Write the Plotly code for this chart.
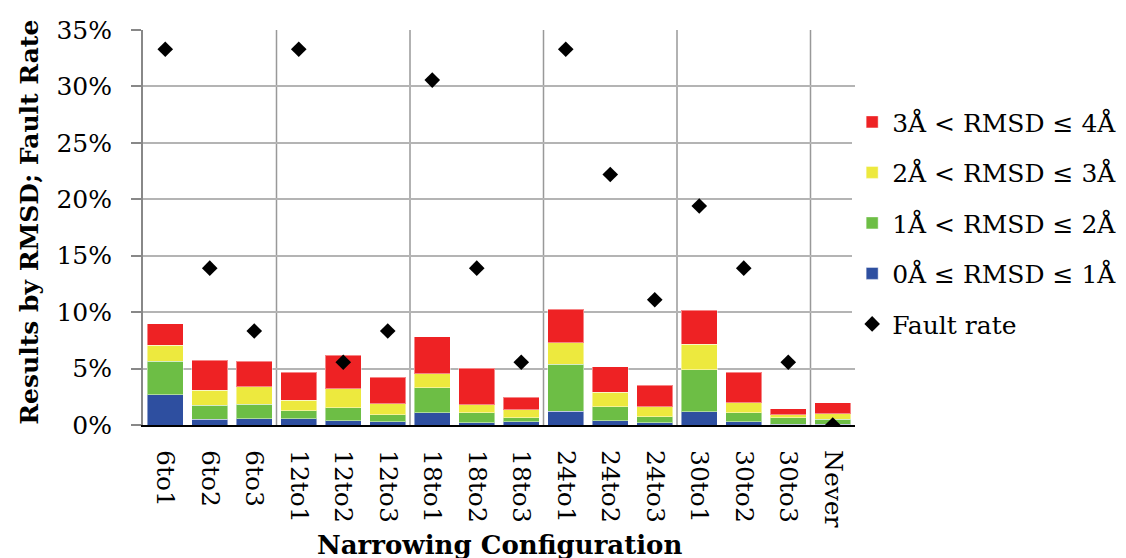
import plotly.graph_objects as go

categories = ["6to1", "6to2", "6to3", "12to1", "12to2", "12to3", "18to1", "18to2", "18to3",
              "24to1", "24to2", "24to3", "30to1", "30to2", "30to3", "Never"]

rmsd_0_1 = [2.7, 0.5, 0.56, 0.56, 0.38, 0.29, 1.09, 0.2, 0.29, 1.21, 0.38, 0.2, 1.18, 0.29, 0.05, 0.05]
rmsd_1_2 = [2.95, 1.27, 1.3, 0.71, 1.15, 0.62, 2.19, 0.89, 0.36, 4.16, 1.24, 0.54, 3.72, 0.8, 0.6, 0.48]
rmsd_2_3 = [1.4, 1.33, 1.54, 0.94, 1.69, 0.98, 1.24, 0.71, 0.68, 1.92, 1.3, 0.88, 2.27, 0.86, 0.24, 0.47]
rmsd_3_4 = [1.9, 2.63, 2.24, 2.48, 2.98, 2.36, 3.3, 3.25, 1.12, 2.96, 2.22, 1.92, 3.02, 2.74, 0.53, 0.98]
fault_rate = [33.3, 13.9, 8.33, 33.3, 5.56, 8.33, 30.56, 13.9, 5.56, 33.3, 22.2, 11.1, 19.4, 13.9, 5.56, 0.0]

series = [
    ("0Å ≤ RMSD ≤ 1Å", rmsd_0_1, "#2E4FA0", 4),
    ("1Å < RMSD ≤ 2Å", rmsd_1_2, "#6DBE45", 3),
    ("2Å < RMSD ≤ 3Å", rmsd_2_3, "#EDE93E", 2),
    ("3Å < RMSD ≤ 4Å", rmsd_3_4, "#EE2224", 1),
]

FONT = "DejaVu Serif"

fig = go.Figure()
for name, vals, color, rank in series:
    fig.add_trace(go.Bar(
        x=categories, y=vals, name=name,
        marker=dict(color=color, line=dict(color="rgba(255,255,255,0.45)", width=1)),
        legendrank=rank, legendgroup=name,
    ))

fig.add_trace(go.Scatter(
    x=categories, y=fault_rate, name="Fault rate", mode="markers",
    marker=dict(symbol="diamond", size=12, color="black"),
    legendrank=5, legendgroup="fault",
))

shapes = []
for i in range(3, len(categories), 3):
    shapes.append(dict(type="line", xref="x", yref="paper", x0=i - 0.5, x1=i - 0.5, y0=0, y1=1,
                       line=dict(color="#999999", width=1.5), layer="below"))

fig.update_layout(
    width=1126, height=558, autosize=False,
    margin=dict(l=135, r=279, t=22, b=141),
    barmode="stack", bargap=0.19,
    plot_bgcolor="white", paper_bgcolor="white",
    font=dict(family=FONT, size=24, color="black"),
    shapes=shapes,
    legend=dict(x=0.996, xanchor="left", y=0.825, yanchor="top",
                traceorder="grouped", tracegroupgap=15,
                font=dict(family=FONT, size=25), itemwidth=30),
    showlegend=True,
    annotations=[
        dict(text="<b>Narrowing Configuration</b>", xref="paper", yref="paper",
             x=0.5, y=-0.304, xanchor="center", yanchor="middle", showarrow=False,
             font=dict(family=FONT, size=26)),
        dict(text="<b>Results by RMSD; Fault Rate</b>", xref="paper", yref="paper",
             x=-0.159, y=0.514, xanchor="center", yanchor="middle", showarrow=False,
             textangle=-90, font=dict(family=FONT, size=25)),
    ],
)

fig.update_yaxes(
    automargin=False,
    range=[0, 35], dtick=5, ticksuffix="%",
    showgrid=True, gridcolor="#b4b4b4", gridwidth=1.5,
    showline=True, linecolor="#888888", linewidth=2,
    ticks="outside", ticklen=10, tickcolor="#888888", tickwidth=1.5,
    ticklabelstandoff=14,
    tickfont=dict(family=FONT, size=25),
    zeroline=False,
)
fig.update_xaxes(
    automargin=False,
    showline=True, linecolor="black", linewidth=2,
    tickangle=90, tickfont=dict(family=FONT, size=25),
    ticklabelstandoff=18,
    range=[-0.5, len(categories) - 0.5],
)

fig.write_html("out.html", config={"responsive": False})
